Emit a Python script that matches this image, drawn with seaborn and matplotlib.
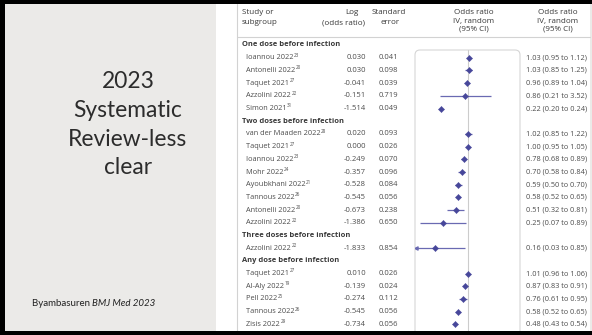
import matplotlib
matplotlib.use("Agg")
import matplotlib.pyplot as plt
from matplotlib.patches import FancyBboxPatch, Rectangle
import numpy as np
import pandas as pd
import seaborn as sns

# ---- data -------------------------------------------------------------
subgroups = [
    "One dose before infection",
    "Two doses before infection",
    "Three doses before infection",
    "Any dose before infection",
]
study = [
    "Ioannou 2022", "Antonelli 2022", "Taquet 2021", "Azzolini 2022", "Simon 2021",
    "van der Maaden 2022", "Taquet 2021", "Ioannou 2022", "Mohr 2022",
    "Ayoubkhani 2022", "Tannous 2022", "Antonelli 2022", "Azzolini 2022",
    "Azzolini 2022",
    "Taquet 2021", "Al-Aly 2022", "Pell 2022", "Tannous 2022", "Zisis 2022",
]
refs = ["23", "20", "27", "22", "31",
        "28", "27", "23", "24", "21", "26", "20", "22",
        "22",
        "27", "19", "25", "26", "29"]
subgroup_of = [0, 0, 0, 0, 0,
               1, 1, 1, 1, 1, 1, 1, 1,
               2,
               3, 3, 3, 3, 3]
log_or = ["0.030", "0.030", "-0.041", "-0.151", "-1.514",
          "0.020", "0.000", "-0.249", "-0.357", "-0.528", "-0.545", "-0.673", "-1.386",
          "-1.833",
          "0.010", "-0.139", "-0.274", "-0.545", "-0.734"]
std_err = ["0.041", "0.098", "0.039", "0.719", "0.049",
           "0.093", "0.026", "0.070", "0.096", "0.084", "0.056", "0.238", "0.650",
           "0.854",
           "0.026", "0.024", "0.112", "0.056", "0.056"]
odds_ratio = [1.03, 1.03, 0.96, 0.86, 0.22,
              1.02, 1.00, 0.78, 0.70, 0.59, 0.58, 0.51, 0.25,
              0.16,
              1.01, 0.87, 0.76, 0.58, 0.48]
ci_low = [0.95, 0.85, 0.89, 0.21, 0.20,
          0.85, 0.95, 0.68, 0.58, 0.50, 0.52, 0.32, 0.07,
          0.03,
          0.96, 0.83, 0.61, 0.52, 0.43]
ci_high = [1.12, 1.25, 1.04, 3.52, 0.24,
           1.22, 1.05, 0.89, 0.84, 0.70, 0.65, 0.81, 0.89,
           0.85,
           1.06, 0.91, 0.95, 0.65, 0.54]

title_lines = ["2023", "Systematic", "Review-less", "clear"]
citation_author = "Byambasuren"
citation_journal = "BMJ Med 2023"

# ---- styling ----------------------------------------------------------
sns.set_theme(style="white")
plt.rcParams["font.family"] = ["Open Sans", "DejaVu Sans"]

W, H = 592, 335
SLIDE_BG = "#ebeae8"
TEXT = "#4d4d4d"
HEAD = "#383838"
POINT = "#47479a"
CI_COL = "#6a6ab2"
RULE = "#d2d2d2"
SLIDE_FONT = ["Lato", "DejaVu Sans"]

fig = plt.figure(figsize=(W / 100, H / 100), dpi=100)
fig.patch.set_facecolor(SLIDE_BG)

# pixel-space canvas for slide layout and table text
bg = fig.add_axes([0, 0, 1, 1])
bg.set_xlim(0, W)
bg.set_ylim(H, 0)
bg.axis("off")

# white figure panel on the slide
bg.add_patch(Rectangle((216, 4), 590 - 216, 327, facecolor="white", edgecolor="none", zorder=0))
bg.plot([237, 237], [4, 331], color=RULE, lw=0.8, zorder=1)
bg.plot([237, 590], [37, 37], color=RULE, lw=0.8, zorder=1)

# slide title and citation
for i, line in enumerate(title_lines):
    bg.text(128, 82 + 28.6 * i, line, ha="center", va="center", fontsize=16.4,
            family=SLIDE_FONT, fontweight="normal", color="#2c2c2c")
t = bg.text(32, 304, citation_author + " ", ha="left", va="center", fontsize=7.0,
            family=SLIDE_FONT, color="#222222")
fig.canvas.draw()
inv = bg.transData.inverted()
x_end = inv.transform((t.get_window_extent().x1, 0))[0]
bg.text(x_end, 304, citation_journal, ha="left", va="center", fontsize=7.0,
        family=SLIDE_FONT, style="italic", color="#222222")

# column headers
hfs = 5.8
bg.text(242, 12, "Study or", ha="left", va="center", fontsize=hfs, color=HEAD)
bg.text(242, 22.5, "subgroup", ha="left", va="center", fontsize=hfs, color=HEAD)
bg.text(352, 12, "Log", ha="center", va="center", fontsize=hfs, color=HEAD)
bg.text(344, 22.5, "(odds ratio)", ha="center", va="center", fontsize=hfs, color=HEAD)
bg.text(389, 12, "Standard", ha="center", va="center", fontsize=hfs, color=HEAD)
bg.text(390, 22.5, "error", ha="center", va="center", fontsize=hfs, color=HEAD)
for cx in (474, 558):
    bg.text(cx, 12, "Odds ratio", ha="center", va="center", fontsize=hfs, color=HEAD)
    bg.text(cx, 21, "IV, random", ha="center", va="center", fontsize=hfs, color=HEAD)
    bg.text(cx, 29.5, "(95% CI)", ha="center", va="center", fontsize=hfs, color=HEAD)

# ---- table rows -------------------------------------------------------
ROW0, STEP = 45, 12.7
placed = []
header_y = []
r = 0
for g in range(len(subgroups)):
    header_y.append(ROW0 + STEP * r)
    r += 1
    for i, sg in enumerate(subgroup_of):
        if sg == g:
            placed.append((i, ROW0 + STEP * r))
            r += 1
row_y = [y for _, y in sorted(placed)]

bfs = 5.3
for g, y in zip(subgroups, header_y):
    bg.text(242, y, g, ha="left", va="center", fontsize=5.4,
            fontweight="bold", color=HEAD)
name_texts = []
for i, y in enumerate(row_y):
    name_texts.append(bg.text(246, y, study[i], ha="left", va="center",
                              fontsize=bfs, color=TEXT))
    bg.text(366, y, log_or[i], ha="right", va="center", fontsize=5.5, color=TEXT)
    bg.text(398, y, std_err[i], ha="right", va="center", fontsize=5.5, color=TEXT)
    bg.text(526, y, f"{odds_ratio[i]:.2f} ({ci_low[i]:.2f} to {ci_high[i]:.2f})",
            ha="left", va="center", fontsize=5.35, color=TEXT)

# reference superscripts after each study name
fig.canvas.draw()
for i, (tx, y) in enumerate(zip(name_texts, row_y)):
    x1 = inv.transform((tx.get_window_extent().x1, 0))[0]
    bg.text(x1 + 0.6, y - 2.6, refs[i], ha="left", va="center", fontsize=3.3, color=TEXT)

# ---- forest plot ------------------------------------------------------
BOX_L, BOX_R, BOX_T = 415, 520, 50
bg.add_patch(FancyBboxPatch((BOX_L, BOX_T), BOX_R - BOX_L, 320,
                            boxstyle="round,pad=0,rounding_size=5",
                            facecolor="white", edgecolor="#d6d6d6", lw=0.8, zorder=1))

fx = fig.add_axes([BOX_L / W, (H - 331) / H, (BOX_R - BOX_L) / W, (331 - BOX_T) / H])
fx.patch.set_alpha(0)
for s in fx.spines.values():
    s.set_visible(False)
fx.set_xscale("log")
fx.set_xlim(0.0527, 18.0)
fx.set_ylim(331, BOX_T)
fx.set_xticks([])
fx.set_yticks([])
fx.minorticks_off()
fx.axvline(1, color="#cccccc", lw=0.8, zorder=1)

df = pd.DataFrame({"study": study, "or": odds_ratio, "lo": ci_low,
                   "hi": ci_high, "y": row_y})
lo_shown = np.maximum(df["lo"], fx.get_xlim()[0] * 1.08)
fx.hlines(df["y"], lo_shown, df["hi"], color=CI_COL, lw=0.9, zorder=2)
clipped = df["lo"] < fx.get_xlim()[0]
fx.scatter(lo_shown[clipped], df["y"][clipped], marker="<", s=5, color=CI_COL, zorder=3)
sns.scatterplot(data=df, x="or", y="y", ax=fx, marker="D", s=10, color=POINT,
                edgecolor=POINT, linewidth=0.3, zorder=4, legend=False)
fx.set_xlabel("")
fx.set_ylabel("")

# slide frame
for rect in [(0, 0, 1, 4 / H), (0, 1 - 4 / H, 1, 4 / H), (0, 0, 4.5 / W, 1)]:
    fig.add_artist(Rectangle(rect[:2], rect[2], rect[3], transform=fig.transFigure,
                             facecolor="black", edgecolor="none", zorder=20))

fig.savefig("out.png", dpi=100, facecolor=fig.get_facecolor())
